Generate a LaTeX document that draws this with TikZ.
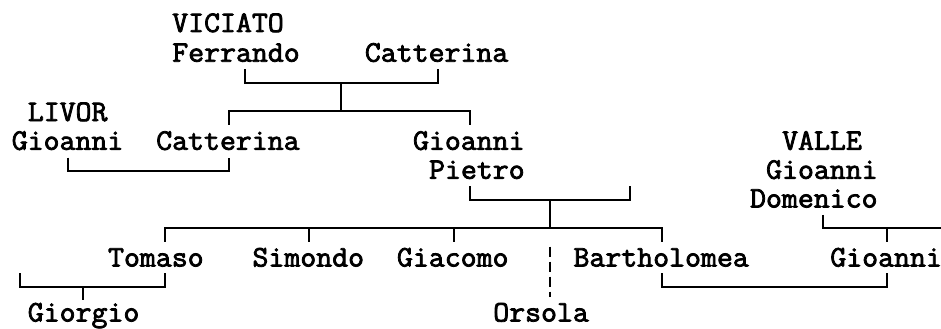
\documentclass[tikz,border=0pt]{standalone}
\usepackage{fontspec}
\newfontfamily\treefont[FakeStretch=1.036,FakeBold=2.6]{Latin Modern Mono}
\begin{document}
\begin{tikzpicture}[x=0.75pt,y=-0.75pt,
  person/.style={anchor=base west,inner sep=0pt,font=\treefont\fontsize{22.4}{26}\selectfont},
  link/.style={line width=1.5pt,line join=miter},
  guess/.style={line width=1.5pt,dash pattern=on 7.5pt off 3.75pt}]
\useasboundingbox (0,0) rectangle (941,328);
% people
\node[person] (viciato) at (172.0,32.0) {VICIATO};
\node[person] (ferrando) at (172.0,61.7) {Ferrando};
\node[person] (catterinaV) at (364.6,61.7) {Catterina};
\node[person] (livor) at (27.55,121.0) {LIVOR};
\node[person] (gioanniL) at (11.5,149.8) {Gioanni};
\node[person] (catterinaM) at (155.95,149.8) {Catterina};
\node[person] (gioanniM) at (412.75,149.8) {Gioanni};
\node[person] (pietro) at (428.8,178.8) {Pietro};
\node[person] (valle) at (781.9,149.8) {VALLE};
\node[person] (gioanniV) at (765.85,178.8) {Gioanni};
\node[person] (domenico) at (749.8,207.5) {Domenico};
\node[person] (tomaso) at (107.8,266.5) {Tomaso};
\node[person] (simondo) at (252.25,266.5) {Simondo};
\node[person] (giacomo) at (396.7,266.5) {Giacomo};
\node[person] (bartholomea) at (573.25,266.5) {Bartholomea};
\node[person] (gioanniR) at (830.05,266.5) {Gioanni};
\node[person] (giorgio) at (27.55,321.5) {Giorgio};
\node[person] (orsola) at (493.0,321.5) {Orsola};
% junction points
\coordinate (ferrT) at (245.0,69.2);
\coordinate (cattT) at (437.6,69.2);
\coordinate (vJ) at (341.3,82.7);
\coordinate (vK) at (341.3,111.3);
\coordinate (cmT) at (228.95,124.8);
\coordinate (gmT) at (469.7,124.8);
\coordinate (glB) at (68.45,157.5);
\coordinate (cmB) at (228.95,157.5);
\coordinate (pT) at (469.7,186.0);
\coordinate (psT) at (630.2,186.0);
\coordinate (pJ) at (549.95,199.5);
\coordinate (pK) at (549.95,228.3);
\coordinate (tomT) at (164.75,241.8);
\coordinate (simT) at (309.2,241.8);
\coordinate (giaT) at (453.65,241.8);
\coordinate (barT) at (662.3,241.8);
\coordinate (orsT) at (549.95,246.7);
\coordinate (orsB) at (549.95,297.0);
\coordinate (tsT) at (20.3,273.4);
\coordinate (tomB) at (164.75,273.4);
\coordinate (giorJ) at (83.0,286.9);
\coordinate (giorT) at (83.0,300.4);
\coordinate (barB) at (662.3,273.4);
\coordinate (gioRB) at (887.0,273.4);
\coordinate (domT) at (822.8,214.8);
\coordinate (domJ) at (887.0,228.3);
\coordinate (gioRT) at (887.0,241.8);
\coordinate (domEnd) at (941,228.3);
% connectors
\draw[link] (ferrT) |- (vJ) -| (cattT);
\draw[link] (vJ) -- (vK);
\draw[link] (cmT) |- (vK) -| (gmT);
\draw[link] (glB) -- ++(0,13.5) -| (cmB);
\draw[link] (pT) |- (pJ) -| (psT);
\draw[link] (pJ) -- (pK);
\draw[link] (tomT) |- (pK) -| (barT);
\draw[link] (simT) -- (simT |- pK);
\draw[link] (giaT) -- (giaT |- pK);
\draw[guess] (orsT) -- (orsB);
\draw[link] (tsT) |- (giorJ) -| (tomB);
\draw[link] (giorJ) -- (giorT);
\draw[link] (barB) -- ++(0,13.5) -| (gioRB);
\draw[link] (domT) |- (domEnd);
\draw[link] (domJ) -- (gioRT);
\end{tikzpicture}
\end{document}
